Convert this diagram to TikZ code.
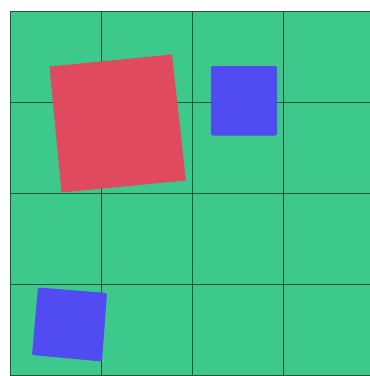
\documentclass[tikz,border=0pt]{standalone}
\usepackage{tikz}
\definecolor{boardgreen}{RGB}{61,201,139}
\definecolor{linegreen}{RGB}{34,84,56}
\definecolor{blockred}{RGB}{224,74,94}
\definecolor{blockblue}{RGB}{80,76,242}
\tikzset{
  board/.style={fill=boardgreen},
  gridline/.style={draw=linegreen, line width=0.9pt},
  redblk/.style={fill=blockred},
  blueblk/.style={fill=blockblue, rounded corners=2pt},
}

\begin{document}
\begin{tikzpicture}[x=1pt, y=-1pt]
    \useasboundingbox[fill=white] (0,0) rectangle (370,376);
    % playing field
    \fill[board] (10,11) rectangle (370,376);
    \begin{scope}
      \clip (0,0) rectangle (370,376);
      \foreach \k in {0,...,4} {
        \draw[gridline] ({10+91*\k},11) -- ({10+91*\k},376);
        \draw[gridline] (10,{11+91*\k}) -- (370,{11+91*\k});
      }
    \end{scope}
    % blocks
    \fill[redblk] (49.5,66.5) -- (172,54.5) -- (186,180.5) -- (61.5,192.5) -- cycle;
    \fill[blueblk] (211,66) rectangle (277,135.5);
    \fill[blueblk] (38,287.5) -- (107,293) -- (102,361.5) -- (32,355) -- cycle;
  \end{tikzpicture}
\end{document}
